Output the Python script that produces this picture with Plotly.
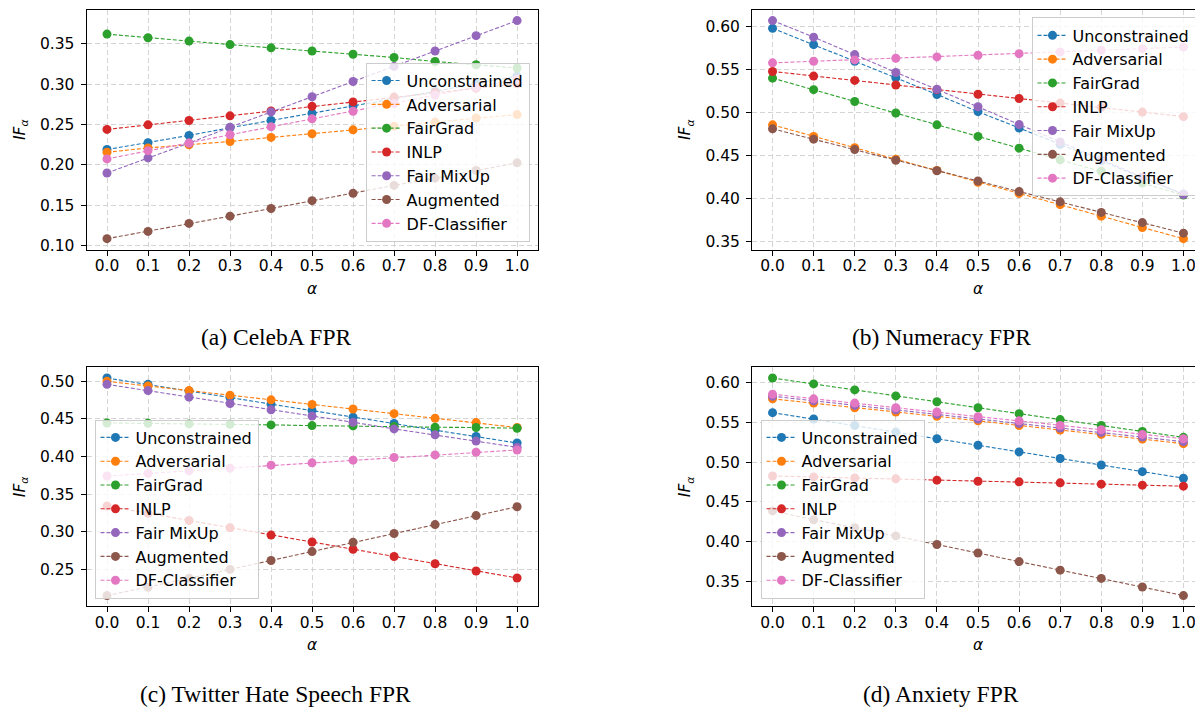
import plotly.graph_objects as go

alphas = [0.0, 0.1, 0.2, 0.3, 0.4, 0.5, 0.6, 0.7, 0.8, 0.9, 1.0]
methods = ["Unconstrained", "Adversarial", "FairGrad", "INLP", "Fair MixUp", "Augmented", "DF-Classifier"]
colors = ["#1f77b4", "#ff7f0e", "#2ca02c", "#d62728", "#9467bd", "#8c564b", "#e377c2"]

# (a) CelebA FPR
celeba_unconstrained = [0.219, 0.2275, 0.2365, 0.246, 0.255, 0.264, 0.273, 0.282, 0.291, 0.301, 0.310]
celeba_adversarial = [0.2156, 0.221, 0.225, 0.229, 0.234, 0.2385, 0.2434, 0.248, 0.253, 0.258, 0.2623]
celeba_fairgrad = [0.362, 0.3574, 0.3533, 0.349, 0.345, 0.341, 0.337, 0.333, 0.328, 0.324, 0.320]
celeba_inlp = [0.2439, 0.2496, 0.255, 0.2607, 0.2668, 0.2725, 0.278, 0.284, 0.2895, 0.295, 0.3005]
celeba_fairmixup = [0.190, 0.2086, 0.227, 0.2467, 0.2656, 0.2844, 0.3033, 0.322, 0.341, 0.360, 0.3787]
celeba_augmented = [0.1086, 0.1176, 0.1275, 0.1365, 0.146, 0.1557, 0.1648, 0.1746, 0.1836, 0.193, 0.2025]
celeba_dfclassifier = [0.2074, 0.2176, 0.227, 0.2373, 0.2471, 0.257, 0.2664, 0.276, 0.2865, 0.296, 0.306]

# (b) Numeracy FPR
numeracy_unconstrained = [0.598, 0.579, 0.5597, 0.5405, 0.521, 0.501, 0.482, 0.463, 0.444, 0.424, 0.405]
numeracy_adversarial = [0.4856, 0.4722, 0.4591, 0.4457, 0.4326, 0.4188, 0.4058, 0.3927, 0.3793, 0.3661, 0.3531]
numeracy_fairgrad = [0.540, 0.5266, 0.5128, 0.4994, 0.4856, 0.4722, 0.4585, 0.445, 0.4316, 0.4178, 0.404]
numeracy_inlp = [0.5478, 0.5424, 0.5374, 0.532, 0.5266, 0.5213, 0.5163, 0.511, 0.506, 0.5005, 0.4952]
numeracy_fairmixup = [0.607, 0.5877, 0.5674, 0.5466, 0.527, 0.5067, 0.486, 0.4656, 0.4453, 0.425, 0.4045]
numeracy_augmented = [0.481, 0.469, 0.4568, 0.4444, 0.4322, 0.4203, 0.408, 0.396, 0.3837, 0.3718, 0.3595]
numeracy_dfclassifier = [0.5578, 0.5597, 0.5612, 0.5631, 0.5647, 0.5666, 0.5685, 0.5704, 0.5724, 0.5743, 0.5762]

# (c) Twitter Hate Speech FPR
twitter_unconstrained = [0.5044, 0.496, 0.4873, 0.4785, 0.4697, 0.4614, 0.4522, 0.4439, 0.4351, 0.4268, 0.418]
twitter_adversarial = [0.500, 0.4939, 0.4877, 0.4816, 0.4754, 0.4693, 0.4632, 0.457, 0.4509, 0.4452, 0.4386]
twitter_fairgrad = [0.4447, 0.4443, 0.4434, 0.443, 0.4421, 0.4412, 0.4408, 0.4399, 0.439, 0.4386, 0.4377]
twitter_inlp = [0.3342, 0.3246, 0.315, 0.3053, 0.2956, 0.2864, 0.2768, 0.2671, 0.2575, 0.2478, 0.2386]
twitter_fairmixup = [0.496, 0.4877, 0.479, 0.4706, 0.4623, 0.454, 0.4456, 0.4368, 0.4289, 0.4206, 0.4123]
twitter_augmented = [0.2152, 0.2263, 0.2382, 0.250, 0.2618, 0.2737, 0.286, 0.2978, 0.3096, 0.3215, 0.3333]
twitter_dfclassifier = [0.3741, 0.3776, 0.3811, 0.3846, 0.3886, 0.3917, 0.3952, 0.3987, 0.4022, 0.4057, 0.4088]

# (d) Anxiety FPR
anxiety_unconstrained = [0.562, 0.554, 0.5459, 0.5376, 0.5293, 0.5211, 0.5128, 0.5045, 0.4963, 0.488, 0.4798]
anxiety_adversarial = [0.5793, 0.574, 0.5682, 0.5628, 0.5574, 0.5517, 0.5459, 0.5401, 0.5347, 0.5289, 0.5231]
anxiety_fairgrad = [0.6054, 0.598, 0.5905, 0.583, 0.5756, 0.5682, 0.5607, 0.5533, 0.5459, 0.5384, 0.531]
anxiety_inlp = [0.4826, 0.4814, 0.4802, 0.479, 0.4773, 0.476, 0.4752, 0.474, 0.4723, 0.4711, 0.4698]
anxiety_fairmixup = [0.5826, 0.5769, 0.5711, 0.5657, 0.560, 0.5541, 0.5483, 0.5426, 0.5372, 0.5314, 0.5256]
anxiety_augmented = [0.4388, 0.4277, 0.4178, 0.4074, 0.3967, 0.386, 0.3752, 0.3645, 0.3541, 0.3434, 0.3326]
anxiety_dfclassifier = [0.5851, 0.5793, 0.574, 0.5682, 0.5628, 0.557, 0.5517, 0.5459, 0.5405, 0.5347, 0.5293]

captions = ["(a) CelebA FPR", "(b) Numeracy FPR", "(c) Twitter Hate Speech FPR", "(d) Anxiety FPR"]

panels = [
    [celeba_unconstrained, celeba_adversarial, celeba_fairgrad, celeba_inlp,
     celeba_fairmixup, celeba_augmented, celeba_dfclassifier],
    [numeracy_unconstrained, numeracy_adversarial, numeracy_fairgrad, numeracy_inlp,
     numeracy_fairmixup, numeracy_augmented, numeracy_dfclassifier],
    [twitter_unconstrained, twitter_adversarial, twitter_fairgrad, twitter_inlp,
     twitter_fairmixup, twitter_augmented, twitter_dfclassifier],
    [anxiety_unconstrained, anxiety_adversarial, anxiety_fairgrad, anxiety_inlp,
     anxiety_fairmixup, anxiety_augmented, anxiety_dfclassifier],
]

W, H = 1203, 711
# plot areas in pixels: (left, right, top, bottom)
boxes = [(78.5, 529.6, 1.7, 243.3), (744, 1196, 1.7, 243.3),
         (78.5, 529.6, 361.7, 602.7), (744, 1196, 361.7, 602.7)]
# legend corner placement: (x, y, xanchor, yanchor)
legend_pos = [(521.6, 235.3, "right", "bottom"), (1187.5, 9.5, "right", "top"),
              (86.5, 594.7, "left", "bottom"), (752.5, 594.7, "left", "bottom")]
caption_pos = [(267.5, 331), (933.5, 331), (267.5, 691), (933.5, 691)]

FONT = "DejaVu Sans"
FS = 15.5
LFS = 16

fig = go.Figure()
layout = dict(
    width=W, height=H, margin=dict(l=0, r=0, t=0, b=0),
    paper_bgcolor="white", plot_bgcolor="white",
    showlegend=True,
    font=dict(family=FONT, size=FS, color="black"),
    annotations=[],
)

for p, series in enumerate(panels):
    ax = "" if p == 0 else str(p + 1)
    leg = "legend" if p == 0 else "legend%d" % (p + 1)
    for m, (name, col, vals) in enumerate(zip(methods, colors, series)):
        fig.add_trace(go.Scatter(
            x=alphas, y=vals, name=name, mode="lines+markers",
            line=dict(color=col, width=1.1, dash="4px,2px"),
            marker=dict(color=col, size=9),
            xaxis="x" + ax, yaxis="y" + ax, legend=leg,
        ))
    allv = [v for s in series for v in s]
    lo, hi = min(allv), max(allv)
    pad = (hi - lo) * 0.05
    l, r, t, b = boxes[p]
    common = dict(
        showline=True, mirror=True, linecolor="black", linewidth=1,
        ticks="outside", ticklen=5, tickwidth=1, tickcolor="black",
        showgrid=True, gridcolor="#d4d4d4", gridwidth=1, griddash="5px,3px",
        zeroline=False, tickfont=dict(family=FONT, size=FS, color="black"),
    )
    layout["xaxis" + ax] = dict(
        common, domain=[l / W, r / W], anchor="y" + ax,
        range=[-0.05, 1.05], tickvals=alphas, tickformat=".1f",
        ticklabelstandoff=-3,
        title=dict(text="<i>α</i>", font=dict(family=FONT, size=FS), standoff=8),
    )
    layout["yaxis" + ax] = dict(
        common, domain=[1 - b / H, 1 - t / H], anchor="x" + ax,
        range=[lo - pad, hi + pad], dtick=0.05, tick0=0, tickformat=".2f",
        ticklabelstandoff=3,
        title=dict(text="<i>IF<sub>α</sub></i>", font=dict(family=FONT, size=FS), standoff=10),
    )
    lx, ly, xa, ya = legend_pos[p]
    layout[leg] = dict(
        x=lx / W, y=1 - ly / H, xanchor=xa, yanchor=ya,
        bgcolor="rgba(255,255,255,0.8)", bordercolor="#cccccc", borderwidth=1,
        font=dict(family=FONT, size=LFS, color="black"),
        tracegroupgap=0,
    )
    cx, cy = caption_pos[p]
    layout["annotations"].append(dict(
        text=captions[p], x=cx / W, y=1 - cy / H, xref="paper", yref="paper",
        xanchor="center", yanchor="middle", showarrow=False,
        font=dict(family="Liberation Serif", size=23.5, color="black"),
    ))

fig.update_layout(**layout)
fig.write_html("out.html")
